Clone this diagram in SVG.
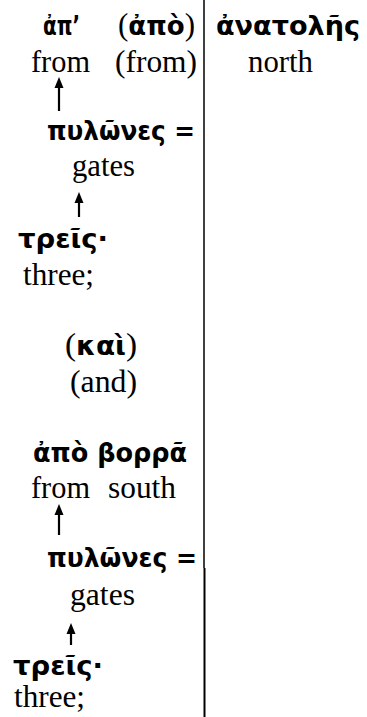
<svg xmlns="http://www.w3.org/2000/svg" width="367" height="717" viewBox="0 0 367 717">
<defs>
<style>
.gr{font-family:"DejaVu Sans","Noto Sans",sans-serif;font-weight:bold;font-size:26px;fill:#000}
.en{font-family:"Liberation Serif","Times New Roman",serif;font-size:31px;fill:#000}
.ar{stroke:#000;stroke-width:2.2;fill:none}
.hd{fill:#000}
</style>
</defs>
<rect width="367" height="717" fill="#fff"/>
<g id="divider">
<line x1="204" y1="0" x2="204" y2="568" stroke="#000" stroke-width="1.5"/>
<line x1="204.5" y1="568" x2="204.5" y2="717" stroke="#000" stroke-width="2"/>
</g>
<g id="n-ap">
<text class="gr" x="43" y="35" textLength="37" lengthAdjust="spacingAndGlyphs">ἀπ’</text>
<text class="en" x="31" y="72" textLength="59" lengthAdjust="spacingAndGlyphs">from</text>
</g>
<g id="n-apo">
<text class="en" x="118" y="35" textLength="77" lengthAdjust="spacingAndGlyphs">(<tspan class="gr">ἀπὸ</tspan>)</text>
<text class="en" x="115" y="72" textLength="82" lengthAdjust="spacingAndGlyphs">(from)</text>
</g>
<g id="n-anatolhs">
<text class="gr" x="216" y="35" textLength="144" lengthAdjust="spacingAndGlyphs">ἀνατολῆς</text>
<text class="en" x="248" y="72" textLength="65" lengthAdjust="spacingAndGlyphs">north</text>
</g>
<g id="n-pylwnes1">
<text class="gr" x="47" y="140" textLength="148" lengthAdjust="spacingAndGlyphs">πυλῶνες =</text>
<text class="en" x="72" y="176" textLength="63" lengthAdjust="spacingAndGlyphs">gates</text>
</g>
<g id="n-treis1">
<text class="gr" x="18" y="248" textLength="90" lengthAdjust="spacingAndGlyphs">τρεῖς·</text>
<text class="en" x="23" y="285" textLength="71" lengthAdjust="spacingAndGlyphs">three;</text>
</g>
<g id="n-kai">
<text class="en" x="65" y="355" textLength="72" lengthAdjust="spacingAndGlyphs">(<tspan class="gr">καὶ</tspan>)</text>
<text class="en" x="70" y="392" textLength="67" lengthAdjust="spacingAndGlyphs">(and)</text>
</g>
<g id="n-apo-borra">
<text class="gr" x="33" y="462" textLength="154" lengthAdjust="spacingAndGlyphs">ἀπὸ βορρᾶ</text>
<text class="en" x="31" y="498"><tspan textLength="59" lengthAdjust="spacingAndGlyphs">from</tspan><tspan x="108" textLength="68" lengthAdjust="spacingAndGlyphs">south</tspan></text>
</g>
<g id="n-pylwnes2">
<text class="gr" x="47" y="567" textLength="150" lengthAdjust="spacingAndGlyphs">πυλῶνες =</text>
<text class="en" x="70" y="605" textLength="65" lengthAdjust="spacingAndGlyphs">gates</text>
</g>
<g id="n-treis2">
<text class="gr" x="13" y="675" textLength="90" lengthAdjust="spacingAndGlyphs">τρεῖς·</text>
<text class="en" x="14" y="707" textLength="71" lengthAdjust="spacingAndGlyphs">three;</text>
</g>
<g id="connectors">
<line class="ar" x1="59" y1="111" x2="59" y2="85"/>
<polygon class="hd" points="54.5,88 59,77 63.5,88"/>
<line class="ar" x1="79" y1="217" x2="79" y2="200"/>
<polygon class="hd" points="74.5,203 79,192 83.5,203"/>
<line class="ar" x1="59" y1="535" x2="59" y2="512"/>
<polygon class="hd" points="54.5,515 59,504 63.5,515"/>
<line class="ar" x1="71" y1="645" x2="71" y2="631"/>
<polygon class="hd" points="66.5,634 71,623 75.5,634"/>
</g>
</svg>
